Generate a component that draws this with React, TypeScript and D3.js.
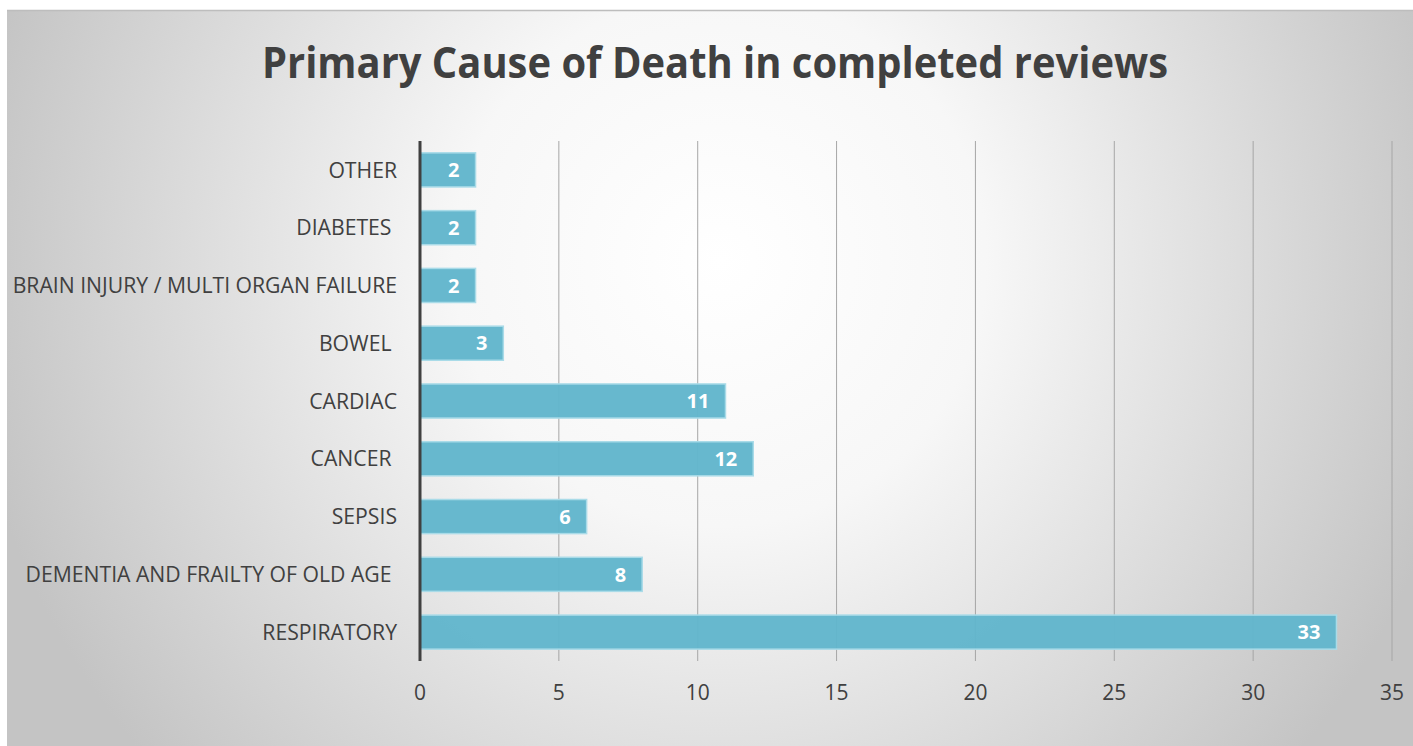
import React from "react";
import * as d3 from "d3";

const categories = [
  "OTHER",
  "DIABETES ",
  "BRAIN INJURY / MULTI ORGAN FAILURE",
  "BOWEL ",
  "CARDIAC",
  "CANCER ",
  "SEPSIS",
  "DEMENTIA AND FRAILTY OF OLD AGE ",
  "RESPIRATORY",
];
const values = [2, 2, 2, 3, 11, 12, 6, 8, 33];
const xTicks = [0, 5, 10, 15, 20, 25, 30, 35];
const title = "Primary Cause of Death in completed reviews";

const W = 1413;
const H = 746;
const left = 420;
const right = 1392;
const top = 141;
const bottom = 661;
const FONT = "'Open Sans', 'Noto Sans', sans-serif";

export default function App() {
  const x = d3.scaleLinear().domain([0, 35]).range([left, right]);
  const y = d3
    .scaleBand<string>()
    .domain(categories)
    .range([top, bottom])
    .paddingInner(0.41)
    .paddingOuter(0.205);

  return (
    <svg
      width={W}
      height={H}
      style={{ position: "absolute", left: 0, top: 0, display: "block" }}
    >
      <defs>
        <radialGradient
          id="bg"
          gradientUnits="userSpaceOnUse"
          cx={720}
          cy={260}
          r={760}
        >
          <stop offset="0" stopColor="#ffffff" />
          <stop offset="0.35" stopColor="#f7f7f7" />
          <stop offset="1" stopColor="#c4c4c4" />
        </radialGradient>
      </defs>
      <rect x={0} y={0} width={W} height={H} fill="#ffffff" />
      <rect x={7} y={10} width={W - 7} height={H - 10} fill="url(#bg)" />
      <line x1={7} x2={W} y1={10.5} y2={10.5} stroke="#bdbdbd" strokeWidth={1.5} />

      <text
        x={715}
        y={78}
        textAnchor="middle"
        fontFamily={FONT}
        fontWeight="bold"
        fontSize={43}
        fill="#404040"
        textLength={906}
        lengthAdjust="spacingAndGlyphs"
      >
        {title}
      </text>

      {xTicks.slice(1).map((t) => (
        <line
          key={"g" + t}
          x1={x(t)}
          x2={x(t)}
          y1={top}
          y2={bottom}
          stroke="#a6a6a6"
          strokeWidth={1}
        />
      ))}

      {categories.map((c, i) => (
        <g key={c}>
          <rect
            x={x(0)}
            y={y(c)}
            width={x(values[i]) - x(0)}
            height={y.bandwidth()}
            fill="#62b6cc"
            fillOpacity={0.97}
            stroke="#a9dbe8"
            strokeWidth={1.5}
          />
          <text
            x={x(values[i]) - 16}
            y={(y(c) as number) + y.bandwidth() / 2}
            dy="0.36em"
            textAnchor="end"
            fontFamily={FONT}
            fontWeight="bold"
            fontSize={20}
            fill="#ffffff"
          >
            {values[i]}
          </text>
          <text
            x={397}
            y={(y(c) as number) + y.bandwidth() / 2}
            dy="0.36em"
            textAnchor="end"
            fontFamily={FONT}
            fontSize={21.2}
            fill="#404040"
            style={{ whiteSpace: "pre" }}
          >
            {c}
          </text>
        </g>
      ))}

      <line x1={x(0)} x2={x(0)} y1={top} y2={bottom} stroke="#404040" strokeWidth={3} />

      {xTicks.map((t) => (
        <text
          key={"t" + t}
          x={x(t)}
          y={692}
          dy="0.36em"
          textAnchor="middle"
          fontFamily={FONT}
          fontSize={21}
          fill="#404040"
        >
          {t}
        </text>
      ))}
    </svg>
  );
}
